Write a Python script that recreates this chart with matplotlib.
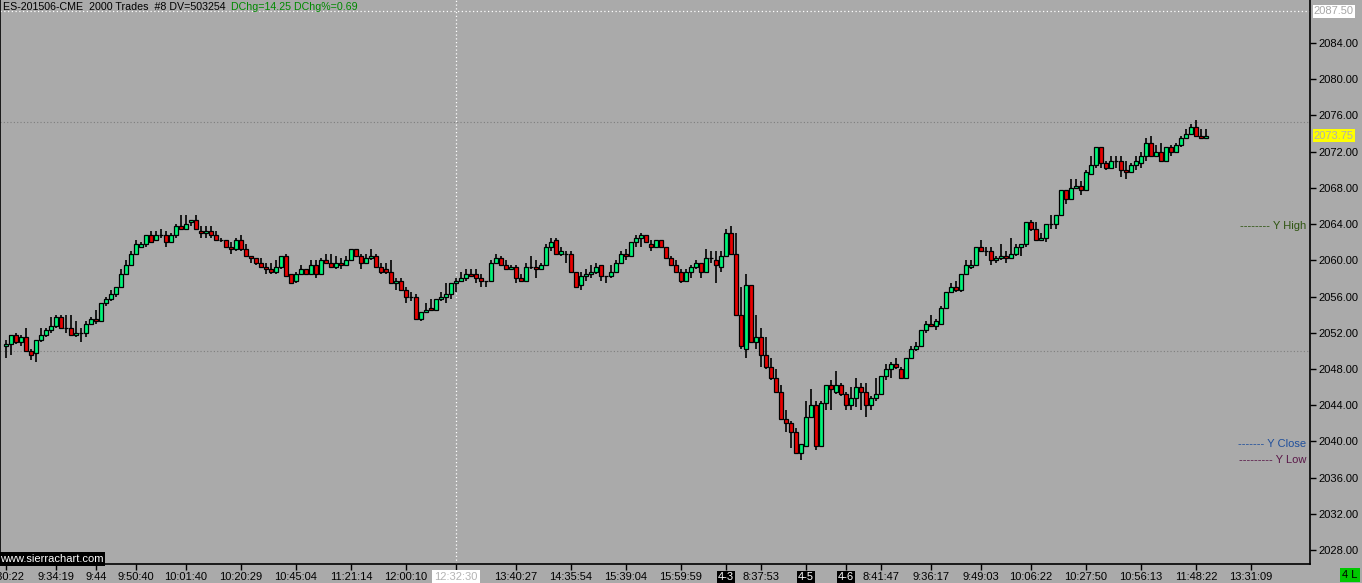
import matplotlib
matplotlib.use('Agg')
import matplotlib.pyplot as plt
import numpy as np

# ---------------- data ----------------
opens = [2050.5, 2050.75, 2051.75, 2051.0, 2051.5, 2050.0, 2049.75, 2051.25, 2051.75, 2052.25,
         2052.75, 2053.75, 2052.5, 2052.5, 2051.75, 2052.0, 2052.0, 2053.0, 2053.5, 2053.25,
         2055.25, 2055.75, 2056.25, 2057.0, 2058.5, 2059.5, 2060.75, 2061.5, 2061.75, 2062.75,
         2062.25, 2062.75, 2062.75, 2062.0, 2062.75, 2063.75, 2063.5, 2064.25, 2064.5, 2063.25,
         2063.0, 2063.25, 2062.75, 2062.25, 2062.25, 2061.5, 2061.25, 2062.25, 2061.25, 2060.5,
         2060.25, 2059.75, 2059.25, 2059.0, 2058.75, 2059.25, 2060.5, 2058.5, 2057.75, 2058.5,
         2059.0, 2058.5, 2059.5, 2058.5, 2060.0, 2059.75, 2059.25, 2059.75, 2059.5, 2060.0,
         2061.25, 2060.5, 2059.75, 2060.25, 2060.5, 2059.25, 2059.0, 2058.75, 2057.5, 2057.75,
         2056.75, 2056.0, 2056.0, 2053.5, 2054.25, 2054.75, 2054.5, 2055.75, 2056.0, 2056.25,
         2057.5, 2057.75, 2058.0, 2058.5, 2058.5, 2058.0, 2057.75, 2057.75, 2059.75, 2060.25,
         2059.5, 2059.0, 2059.25, 2058.0, 2057.75, 2059.25, 2059.25, 2059.0, 2059.5, 2061.5,
         2062.25, 2060.75, 2060.75, 2060.75, 2058.75, 2057.25, 2058.25, 2058.5, 2058.75, 2059.5,
         2058.25, 2058.25, 2058.75, 2059.75, 2060.75, 2060.5, 2062.0, 2062.5, 2062.75, 2061.75,
         2061.5, 2062.25, 2061.5, 2060.25, 2059.5, 2058.75, 2057.75, 2058.75, 2059.25, 2059.75,
         2058.75, 2060.25, 2060.0, 2059.25, 2060.5, 2063.0, 2060.75, 2054.0, 2050.25, 2057.25,
         2051.0, 2051.5, 2049.5, 2048.25, 2047.0, 2045.5, 2042.5, 2042.0, 2041.0, 2038.75,
         2039.5, 2042.75, 2044.0, 2039.5, 2044.25, 2046.25, 2045.5, 2046.25, 2045.25, 2044.0,
         2044.75, 2046.0, 2045.5, 2044.0, 2044.75, 2045.25, 2047.25, 2048.0, 2048.5, 2048.0,
         2047.0, 2049.25, 2050.25, 2050.5, 2052.25, 2053.0, 2052.75, 2053.0, 2054.75, 2056.5,
         2057.0, 2056.75, 2058.5, 2059.25, 2059.5, 2061.5, 2061.0, 2061.0, 2060.0, 2060.25,
         2060.5, 2060.25, 2060.75, 2061.5, 2061.75, 2064.25, 2063.5, 2062.25, 2062.5, 2064.0,
         2064.0, 2065.0, 2067.75, 2066.75, 2068.0, 2068.25, 2067.75, 2069.5, 2070.5, 2072.5,
         2070.75, 2070.25, 2071.0, 2071.0, 2070.0, 2069.75, 2070.5, 2070.75, 2071.5, 2073.0,
         2071.5, 2072.0, 2071.0, 2072.5, 2072.0, 2072.75, 2073.5, 2074.0, 2074.75, 2073.75,
         2073.5]
highs = [2051.25, 2051.75, 2052.0, 2051.75, 2052.5, 2050.25, 2051.25, 2052.5, 2052.5, 2053.75,
         2054.0, 2054.0, 2054.0, 2054.0, 2053.25, 2052.5, 2053.25, 2053.75, 2054.5, 2055.25,
         2056.0, 2056.75, 2057.0, 2059.0, 2060.0, 2061.0, 2062.25, 2062.0, 2062.75, 2063.25,
         2063.25, 2063.5, 2063.25, 2063.0, 2064.0, 2065.0, 2065.0, 2064.5, 2065.0, 2063.75,
         2063.75, 2063.75, 2063.25, 2062.5, 2062.25, 2062.0, 2062.5, 2062.75, 2061.75, 2060.5,
         2060.25, 2060.25, 2059.75, 2059.75, 2060.0, 2060.5, 2060.75, 2058.5, 2058.75, 2059.5,
         2059.0, 2060.0, 2060.0, 2060.25, 2060.75, 2060.75, 2060.5, 2060.25, 2060.5, 2061.25,
         2061.25, 2060.75, 2060.75, 2061.25, 2060.75, 2059.75, 2059.75, 2060.0, 2058.0, 2058.0,
         2057.0, 2056.5, 2056.25, 2054.25, 2055.25, 2055.75, 2055.75, 2056.5, 2057.5, 2057.5,
         2058.0, 2058.75, 2059.0, 2059.0, 2059.0, 2058.5, 2057.75, 2060.0, 2060.75, 2060.5,
         2060.0, 2059.5, 2059.5, 2058.5, 2059.75, 2060.5, 2060.0, 2059.75, 2061.75, 2062.5,
         2062.5, 2061.5, 2061.0, 2061.0, 2058.75, 2058.75, 2059.0, 2059.5, 2059.75, 2059.5,
         2058.25, 2059.5, 2060.0, 2061.0, 2061.25, 2062.0, 2062.75, 2063.0, 2062.75, 2062.25,
         2062.25, 2062.25, 2061.5, 2060.5, 2060.0, 2059.0, 2059.0, 2059.5, 2060.0, 2059.75,
         2061.25, 2061.0, 2061.0, 2061.0, 2063.5, 2063.75, 2063.0, 2057.0, 2058.5, 2057.25,
         2054.0, 2052.5, 2051.5, 2049.25, 2048.0, 2046.25, 2043.5, 2042.25, 2041.5, 2039.75,
         2044.5, 2045.75, 2044.5, 2044.5, 2046.25, 2046.75, 2047.75, 2046.5, 2045.5, 2046.0,
         2047.0, 2046.5, 2046.5, 2045.0, 2047.0, 2047.25, 2048.5, 2048.75, 2049.25, 2048.25,
         2049.25, 2050.5, 2051.0, 2052.25, 2053.25, 2054.0, 2053.5, 2055.0, 2056.5, 2057.5,
         2057.75, 2058.5, 2060.0, 2060.0, 2061.5, 2062.25, 2061.5, 2061.5, 2060.5, 2061.75,
         2061.0, 2062.5, 2061.75, 2061.75, 2064.25, 2064.5, 2064.25, 2063.0, 2064.0, 2065.0,
         2065.0, 2067.75, 2067.75, 2069.0, 2069.0, 2068.75, 2070.0, 2071.5, 2072.5, 2072.5,
         2071.0, 2071.5, 2071.5, 2071.5, 2071.0, 2070.75, 2071.5, 2072.0, 2073.5, 2073.75,
         2072.75, 2073.0, 2072.5, 2072.75, 2073.0, 2073.75, 2074.5, 2075.0, 2075.5, 2074.5,
         2074.5]
lows = [2049.25, 2049.5, 2050.75, 2050.5, 2050.0, 2049.0, 2048.75, 2051.0, 2051.5, 2052.0,
        2052.5, 2052.5, 2052.0, 2051.75, 2051.5, 2051.0, 2051.5, 2053.0, 2053.0, 2053.25,
        2055.0, 2055.5, 2056.0, 2057.0, 2058.5, 2059.5, 2060.75, 2061.5, 2061.5, 2062.0,
        2062.25, 2062.5, 2061.5, 2062.0, 2062.5, 2063.5, 2063.5, 2063.75, 2063.5, 2062.5,
        2062.5, 2062.5, 2062.25, 2062.0, 2061.5, 2060.75, 2061.0, 2061.0, 2060.5, 2059.75,
        2059.5, 2059.25, 2058.5, 2058.5, 2058.5, 2059.0, 2058.25, 2057.5, 2057.5, 2058.5,
        2058.5, 2058.5, 2058.0, 2058.5, 2059.75, 2059.25, 2059.0, 2059.0, 2059.5, 2060.0,
        2060.5, 2059.0, 2059.75, 2060.0, 2059.25, 2058.5, 2058.5, 2057.5, 2056.75, 2056.75,
        2055.25, 2055.5, 2053.5, 2053.25, 2054.25, 2054.5, 2054.5, 2055.5, 2055.25, 2055.75,
        2056.5, 2057.75, 2057.75, 2058.25, 2057.5, 2057.0, 2057.0, 2057.75, 2059.75, 2059.5,
        2059.0, 2059.0, 2057.5, 2057.75, 2057.75, 2059.0, 2058.0, 2059.0, 2059.5, 2061.0,
        2060.75, 2060.5, 2059.75, 2058.75, 2057.0, 2056.75, 2057.75, 2058.0, 2058.5, 2057.75,
        2057.5, 2058.0, 2058.75, 2059.75, 2060.0, 2060.5, 2061.5, 2061.5, 2062.0, 2061.0,
        2061.5, 2061.5, 2060.25, 2059.5, 2058.75, 2057.5, 2057.75, 2058.0, 2059.0, 2058.0,
        2058.75, 2059.75, 2057.5, 2058.75, 2060.5, 2060.75, 2054.0, 2050.25, 2049.25, 2051.0,
        2050.25, 2048.25, 2048.0, 2046.75, 2045.5, 2042.5, 2041.0, 2039.25, 2038.75, 2038.0,
        2039.5, 2042.75, 2039.0, 2039.5, 2043.5, 2043.5, 2045.25, 2045.0, 2043.5, 2043.5,
        2043.75, 2043.5, 2042.75, 2043.5, 2044.5, 2045.25, 2046.75, 2047.0, 2048.0, 2047.0,
        2047.0, 2049.25, 2050.0, 2050.5, 2052.0, 2052.75, 2052.25, 2053.0, 2054.75, 2056.5,
        2056.5, 2056.5, 2058.5, 2059.0, 2059.5, 2061.0, 2060.5, 2059.5, 2059.75, 2060.0,
        2059.75, 2060.25, 2060.5, 2060.5, 2061.5, 2063.25, 2062.25, 2062.25, 2062.0, 2063.5,
        2063.5, 2065.0, 2066.25, 2066.75, 2068.0, 2067.25, 2067.75, 2069.5, 2070.25, 2070.25,
        2070.0, 2070.25, 2070.25, 2069.25, 2069.0, 2069.75, 2070.0, 2070.25, 2071.0, 2071.5,
        2071.5, 2071.0, 2071.0, 2071.5, 2072.0, 2072.5, 2073.5, 2074.0, 2073.75, 2073.5,
        2073.5]
closes = [2050.75, 2051.75, 2051.0, 2051.5, 2050.0, 2049.5, 2051.25, 2051.75, 2052.25, 2052.75,
          2053.75, 2052.5, 2052.5, 2051.75, 2052.0, 2052.0, 2053.0, 2053.5, 2053.25, 2055.25,
          2055.75, 2056.25, 2057.0, 2058.5, 2059.5, 2060.75, 2061.75, 2061.75, 2062.75, 2062.0,
          2062.75, 2062.75, 2062.0, 2062.75, 2063.75, 2063.5, 2064.0, 2064.5, 2063.5, 2063.0,
          2063.25, 2062.75, 2062.25, 2062.25, 2061.5, 2061.25, 2062.25, 2061.25, 2060.5, 2060.25,
          2059.75, 2059.25, 2059.0, 2058.75, 2059.25, 2060.5, 2058.25, 2057.5, 2058.5, 2059.0,
          2058.5, 2059.5, 2058.5, 2060.0, 2059.75, 2059.25, 2059.75, 2059.5, 2060.0, 2061.25,
          2060.5, 2059.75, 2060.25, 2060.5, 2059.25, 2058.75, 2058.75, 2057.5, 2057.75, 2056.75,
          2056.0, 2056.0, 2053.5, 2054.25, 2054.5, 2054.5, 2055.75, 2056.0, 2056.25, 2057.5,
          2057.75, 2058.0, 2058.5, 2058.25, 2058.0, 2057.75, 2057.75, 2059.75, 2060.25, 2059.5,
          2059.0, 2059.25, 2058.0, 2057.75, 2059.25, 2059.25, 2059.0, 2059.5, 2061.5, 2062.0,
          2060.75, 2061.0, 2060.75, 2058.75, 2057.0, 2058.25, 2058.5, 2058.75, 2059.25, 2058.25,
          2058.25, 2058.75, 2059.75, 2060.75, 2060.5, 2062.0, 2062.5, 2062.75, 2062.0, 2061.5,
          2062.25, 2061.5, 2060.25, 2059.5, 2058.75, 2057.75, 2058.75, 2059.25, 2059.75, 2058.75,
          2060.25, 2060.25, 2059.5, 2060.5, 2063.0, 2060.75, 2054.0, 2050.5, 2057.25, 2051.0,
          2051.5, 2049.5, 2048.25, 2047.0, 2045.5, 2042.5, 2042.0, 2041.0, 2038.75, 2039.75,
          2042.75, 2044.0, 2039.5, 2044.25, 2046.25, 2045.75, 2046.25, 2045.25, 2044.0, 2044.75,
          2046.0, 2045.5, 2044.0, 2044.75, 2045.25, 2047.25, 2048.0, 2048.5, 2048.25, 2047.0,
          2049.25, 2050.25, 2050.5, 2052.25, 2053.0, 2052.75, 2053.25, 2054.75, 2056.5, 2057.0,
          2056.75, 2058.5, 2059.5, 2059.5, 2061.5, 2061.0, 2061.0, 2060.0, 2060.25, 2060.5,
          2060.25, 2060.75, 2061.5, 2061.75, 2064.25, 2063.5, 2062.25, 2062.5, 2064.0, 2064.0,
          2065.0, 2067.75, 2066.75, 2068.0, 2068.25, 2067.75, 2069.75, 2070.5, 2072.5, 2070.75,
          2070.25, 2071.0, 2071.0, 2070.0, 2069.75, 2070.5, 2071.0, 2071.5, 2073.0, 2071.5,
          2072.0, 2071.0, 2072.5, 2072.0, 2072.75, 2073.5, 2074.0, 2074.75, 2073.75, 2073.5,
          2073.75]

xtick_pos = [0, 10, 18, 26, 36, 47, 58, 69, 80, 90, 102, 113, 124, 135, 144, 151, 160, 168,
             175, 185, 195, 205, 216, 227, 238, 249]
xtick_labels = ['9:30:22', '9:34:19', '9:44', '9:50:40', '10:01:40', '10:20:29', '10:45:04',
                '11:21:14', '12:00:10', '12:32:30', '13:40:27', '14:35:54', '15:39:04',
                '15:59:59', '4-3', '8:37:53', '4-5', '4-6', '8:41:47', '9:36:17', '9:49:03',
                '10:06:22', '10:27:50', '10:56:13', '11:48:22', '13:31:09']
date_labels = ['4-3', '4-5', '4-6']
cursor_label = '12:32:30'
cursor_bar = 90
cursor_price = 2087.50
last_price = 2073.75
ref_levels = [2075.25, 2050.0]
y_high, y_close, y_low = 2063.75, 2039.75, 2038.0

# ---------------- style ----------------
BG = '#AAAAAA'
UP = '#00F57A'
DN = '#E80000'
plt.rcParams['font.family'] = ['Liberation Sans', 'DejaVu Sans']

W, H = 1362, 583
fig = plt.figure(figsize=(W / 100, H / 100), dpi=100, facecolor=BG)
ax = fig.add_axes([0 / W, 19 / H, 1310 / W, 564 / H])
ax.set_facecolor(BG)

o = np.array(opens); h = np.array(highs); l = np.array(lows); c = np.array(closes)
x = np.arange(len(o))
colors = [UP if cc >= oo else DN for oo, cc in zip(o, c)]

ax.vlines(x, l, h, color='black', lw=1.2, zorder=3)
ax.bar(x, np.abs(c - o), bottom=np.minimum(o, c), width=0.62, color=colors,
       edgecolor='black', linewidth=0.9, zorder=4)

ax.set_xlim(-1.2, 260.8)
ax.set_ylim(2026.46, 2088.75)

# reference lines
for lv in ref_levels:
    ax.axhline(lv, color='#7E7E7E', lw=0.8, ls=(0, (1, 2)), zorder=1)
ax.axhline(cursor_price, color='white', lw=0.9, ls=(0, (1, 2)), zorder=2)
ax.axvline(cursor_bar, color='white', lw=0.9, ls=(0, (1, 2)), zorder=2)

# axes styling
ax.spines['top'].set_visible(False)
for s in ['left', 'right', 'bottom']:
    ax.spines[s].set_color('black')
    ax.spines[s].set_linewidth(1.2)

yt = np.arange(2028, 2085, 4)
ax.yaxis.tick_right()
ax.set_yticks(yt)
ax.set_yticklabels([f'{v:.2f}' for v in yt])
ax.tick_params(axis='y', direction='out', length=4, width=1, pad=2, labelsize=8,
               colors='black')
ax.set_xticks(xtick_pos)
ax.set_xticklabels(xtick_labels)
ax.tick_params(axis='x', direction='out', length=4, width=1, pad=2, labelsize=8,
               colors='black')
for t in ax.get_xticklabels():
    if t.get_text() in date_labels:
        t.set_color('white')
        t.set_bbox(dict(facecolor='black', edgecolor='none', pad=1.0))
    elif t.get_text() == cursor_label:
        t.set_color('#B4B4B4')
        t.set_bbox(dict(facecolor='white', edgecolor='none', pad=1.5))

ytr = ax.get_yaxis_transform()
ax.text(1.003, cursor_price, f'{cursor_price:.2f}', transform=ytr, ha='left', va='center',
        fontsize=8, color='#A8A8A8', bbox=dict(facecolor='white', edgecolor='none', pad=1.0),
        clip_on=False)
ax.text(1.003, last_price, f'{last_price:.2f}', transform=ytr, ha='left', va='center',
        fontsize=8, color='#B0B0B0', bbox=dict(facecolor='#FFFF00', edgecolor='none', pad=1.0),
        clip_on=False)

# yesterday levels
ax.text(0.997, y_high, '-------- Y High', transform=ytr, ha='right', va='center',
        fontsize=8, color='#2E5410')
ax.text(0.997, y_close, '------- Y Close', transform=ytr, ha='right', va='center',
        fontsize=8, color='#1F4F9C')
ax.text(0.997, y_low, '--------- Y Low', transform=ytr, ha='right', va='center',
        fontsize=8, color='#5A1848')

# header
t1 = fig.text(3 / W, 1 - 7 / H, 'ES-201506-CME  2000 Trades  #8 DV=503254', ha='left',
              va='center', fontsize=7.7, color='black')
fig.text(231 / W, 1 - 7 / H, 'DChg=14.25 DChg%=0.69', ha='left', va='center',
         fontsize=7.7, color='#008A00')

ax.text(0.0, 0.0, 'www.sierrachart.com', transform=ax.transAxes, ha='left', va='bottom',
        fontsize=8, color='white', bbox=dict(facecolor='black', edgecolor='none', pad=1.2))

fig.text(1350 / W, 8 / H, '4 L', ha='center', va='center', fontsize=8, color='black',
         bbox=dict(facecolor='#00C800', edgecolor='none', pad=1.5))

fig.savefig('out.png', dpi=100, facecolor=BG)
